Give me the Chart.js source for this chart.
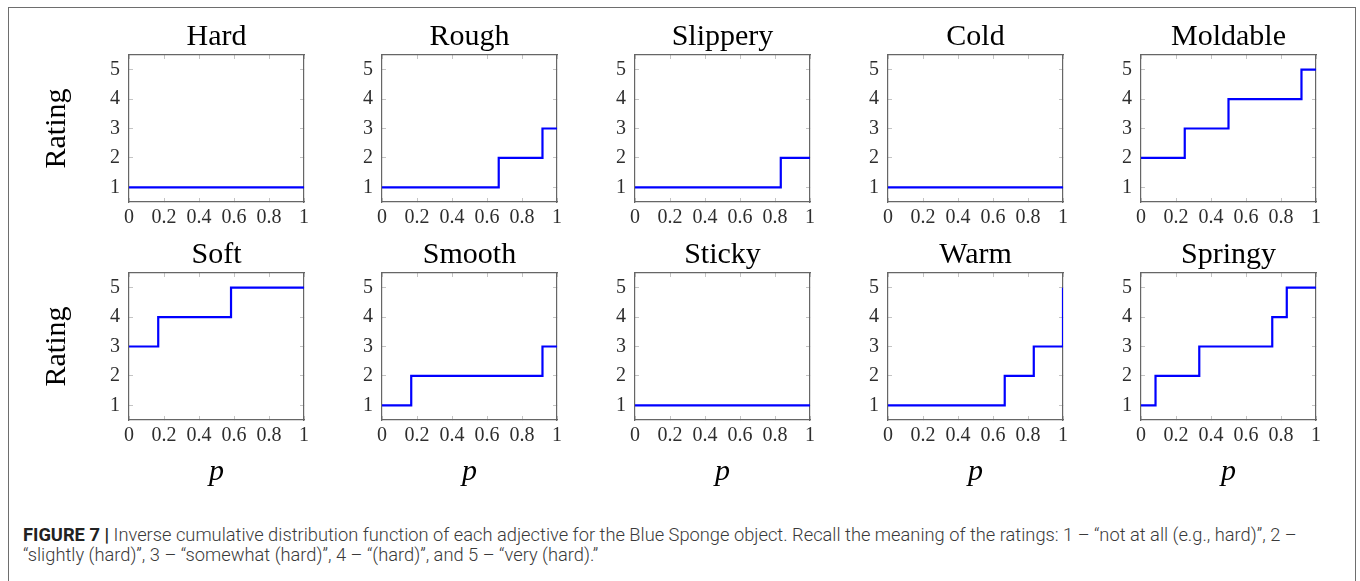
<!DOCTYPE html>
<html>
<head>
<meta charset="utf-8">
<script src="https://cdn.jsdelivr.net/npm/chart.js@4.4.1/dist/chart.umd.min.js"></script>
<style>
    body { margin: 0; background: #fff; width: 1360px; height: 581px; overflow: hidden; position: relative; }
    .frame { position: absolute; left: 8px; top: 7px; width: 1348px; height: 640px; border: 1.5px solid #6e6e6e; box-sizing: border-box; }
    canvas.panel { position: absolute; }
    .caption {
        position: absolute; left: 23px; top: 525px;
        font-family: Roboto, 'Liberation Sans', sans-serif; font-weight: 300;
        font-size: 18.3px; line-height: 20px; color: #3a3a3a; white-space: nowrap;
    }
    .caption b { font-weight: 700; color: #222; }
</style>
</head>
<body>
<div class="frame"></div>
<div id="panels"></div>
<div class="caption"><b>FIGURE 7 |</b> Inverse cumulative distribution function of each adjective for the Blue Sponge object. Recall the meaning of the ratings: 1 – “not at all (e.g., hard)”, 2 –<br>“slightly (hard)”, 3 – “somewhat (hard)”, 4 – “(hard)”, and 5 – “very (hard).”</div>
<script>
const adjectives = ['Hard', 'Rough', 'Slippery', 'Cold', 'Moldable', 'Soft', 'Smooth', 'Sticky', 'Warm', 'Springy'];

// p where each step begins; the last point closes the curve at p = 1
const stepP = [
    [0, 1],
    [0, 0.667, 0.917, 1],
    [0, 0.833, 1],
    [0, 1],
    [0, 0.25, 0.5, 0.917, 1],
    [0, 0.167, 0.583, 1],
    [0, 0.167, 0.917, 1],
    [0, 1],
    [0, 0.667, 0.833, 1],
    [0, 0.083, 0.333, 0.75, 0.833, 1]
];
const stepRating = [
    [1, 1],
    [1, 2, 3, 3],
    [1, 2, 2],
    [1, 1],
    [2, 3, 4, 5, 5],
    [3, 4, 5, 5],
    [1, 2, 3, 3],
    [1, 1],
    [1, 2, 3, 5],
    [1, 2, 3, 4, 5, 5]
];

const pTicks = [0, 0.2, 0.4, 0.6, 0.8, 1];
const pTickLabels = ['0', '0.2', '0.4', '0.6', '0.8', '1'];
const ratingTicks = [1, 2, 3, 4, 5];
const ratingTickLabels = ['1', '2', '3', '4', '5'];

// panel grid
const COLS = 5;
const plotLeft0 = 129, colStep = 253;
const plotTop0 = 55, rowStep = 218;
const plotW = 176, plotH = 147;
const axisW = 110, titleH = 55, bottomH = 80, rightW = 12;

const SERIF = "'Liberation Serif', 'DejaVu Serif', serif";
const tickFont = { family: SERIF, size: 20 };
const tickColor = '#2e2e2e';

const gridOpts = { drawOnChartArea: false, drawTicks: true, tickLength: -4, tickColor: '#c4c4c4', tickWidth: 1 };
const borderOpts = { display: true, color: '#666', width: 1.2 };

function pAxis(position, showLabels, showTitle) {
    return {
        type: 'linear',
        position: position,
        min: 0,
        max: 1,
        afterBuildTicks: s => { s.ticks = pTicks.map(v => ({ value: v })); },
        ticks: {
            display: showLabels,
            callback: (v, k) => pTickLabels[k],
            font: tickFont,
            color: tickColor,
            padding: 8,
            maxRotation: 0,
            autoSkip: false
        },
        grid: gridOpts,
        border: borderOpts,
        title: {
            display: showTitle,
            text: 'p',
            color: '#000',
            font: { family: SERIF, size: 30, style: 'italic' },
            padding: { top: 0, bottom: 10 }
        },
        afterFit: s => { s.height = position === 'bottom' ? bottomH : 0; }
    };
}

function ratingAxis(position, showLabels, showTitle) {
    return {
        type: 'linear',
        position: position,
        min: 0.5,
        max: 5.5,
        afterBuildTicks: s => { s.ticks = ratingTicks.map(v => ({ value: v })); },
        ticks: {
            display: showLabels,
            callback: (v, k) => ratingTickLabels[k],
            font: tickFont,
            color: tickColor,
            padding: 13
        },
        grid: gridOpts,
        border: borderOpts,
        title: {
            display: showTitle,
            text: 'Rating',
            color: '#000',
            font: { family: SERIF, size: 30 },
            padding: { top: 20, bottom: 0 }
        },
        afterFit: s => { s.width = position === 'left' ? axisW : rightW; }
    };
}

const holder = document.getElementById('panels');

adjectives.forEach((name, i) => {
    const row = Math.floor(i / COLS);
    const col = i % COLS;

    const canvas = document.createElement('canvas');
    canvas.className = 'panel';
    canvas.width = axisW + plotW + rightW;
    canvas.height = titleH + plotH + bottomH;
    canvas.style.left = (plotLeft0 + col * colStep - axisW) + 'px';
    canvas.style.top = (plotTop0 + row * rowStep - titleH) + 'px';
    holder.appendChild(canvas);

    const points = stepP[i].map((p, k) => ({ x: p, y: stepRating[i][k] }));

    new Chart(canvas, {
        type: 'line',
        data: {
            datasets: [{
                data: points,
                borderColor: '#0000ff',
                borderWidth: 2.2,
                pointRadius: 0,
                stepped: 'before',
                fill: false,
                xAxisID: 'x',
                yAxisID: 'y'
            }]
        },
        options: {
            responsive: false,
            animation: false,
            events: [],
            layout: { padding: 0 },
            plugins: {
                legend: { display: false },
                tooltip: { enabled: false },
                title: {
                    display: true,
                    fullSize: false,   // centre the title over the plot box
                    text: name,
                    color: '#000',
                    font: { family: SERIF, size: 30, weight: 'normal' },
                    padding: { top: 19, bottom: 0 }
                }
            },
            scales: {
                x: pAxis('bottom', true, row === 1),
                x2: pAxis('top', false, false),
                y: ratingAxis('left', true, col === 0),
                y2: ratingAxis('right', false, false)
            }
        }
    });
});
</script>
</body>
</html>
